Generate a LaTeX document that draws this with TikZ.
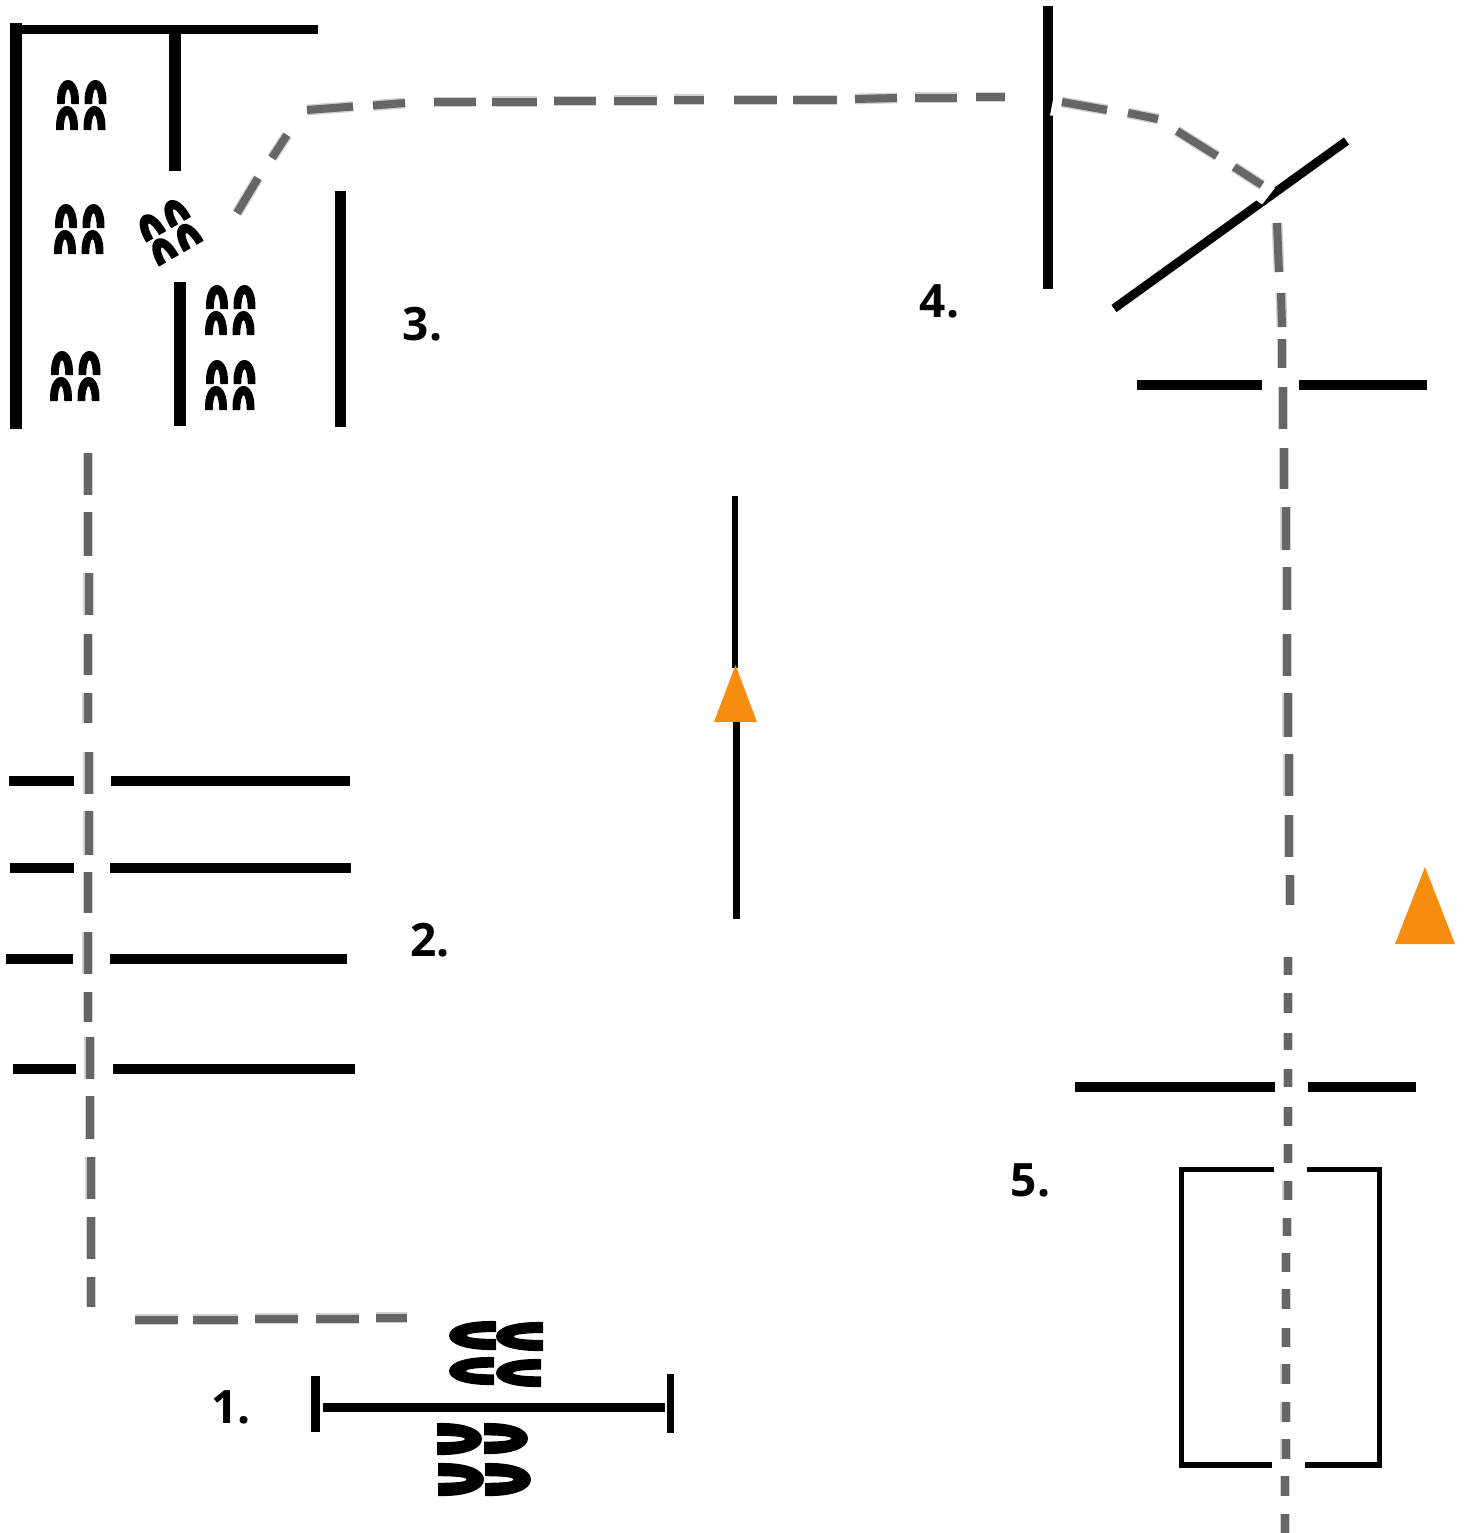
\documentclass[tikz,border=0pt]{standalone}
\usepackage{fontspec}
\setmainfont{Open Sans}
\definecolor{beamgrey}{HTML}{666666}
\definecolor{beamhalo}{HTML}{D0D0D0}
\definecolor{marker}{HTML}{F68D0F}
\tikzset{
  rayhalo/.style={beamhalo,line width=5.4pt},
  ray/.style={beamgrey,line width=4pt},
  bar/.style={black,line width=#1},
  bar/.default=5pt,
  tag/.style={font=\fontsize{23pt}{26pt}\selectfont\bfseries,text=black,inner sep=0pt,anchor=center},
  flag/.style={fill=marker,draw=none}
}
% #6 = half width of the opening, as a share of the half width
\newcommand\archfig[6]{%
  \fill[black,shift={(#1,#2)},rotate=#3,xscale=#4,yscale=#5]
    (-1,0) .. controls (-1.05,-.62) and (-.62,-1) .. (0,-1)
    .. controls (.62,-1) and (1.05,-.62) .. (1,0) -- (#6,0)
    .. controls (#6,-.3) and (.16,-.62) .. (0,-.62)
    .. controls (-.16,-.62) and (-#6,-.3) .. (-#6,0) -- cycle;}
\newcommand\archquad[4][1]{%
  \begin{scope}[shift={(#2,#3)},rotate=#4,scale=#1]
    \archfig{-13}{-1}{0}{11}{24}{.3}
    \archfig{14.5}{-1}{0}{11}{24}{.3}
    \archfig{-14}{25}{0}{11}{24}{.3}
    \archfig{13.5}{25}{0}{11}{24}{.3}
  \end{scope}}
\newcommand\seg[4]{%
  \draw[rayhalo] (#1,#2) -- (#3,#4);
  \draw[ray] (#1,#2) -- (#3,#4);}
\begin{document}
\begin{tikzpicture}[x=.5pt,y=-.5pt]
\useasboundingbox (0,0) rectangle (1464,1533);

% chamber walls (3)
\draw[bar=6pt] (16,23) -- (16,429);
\draw[bar=4.5pt] (22,29.5) -- (318,29.5);
\draw[bar=6pt] (175,34) -- (175,171);
\draw[bar=6pt] (180,282) -- (180,426);
\draw[bar=5.25pt] (340.3,191) -- (340.3,427);

% arch clusters
\archquad{81}{105}{0}
\archquad{79}{229}{0}
\archquad{75}{376}{0}
\archquad{230}{310}{0}
\archquad{230}{385}{0}
\archquad[1.04]{168.5}{231}{30}

% plates (2)
\foreach \yy/\a/\b/\c/\d in {780.5/9/74/111/350,868/9.5/73.5/110/351,958.5/6/72.5/109.5/347,1068.5/13/76/113/355}{
  \draw[bar] (\a,\yy) -- (\b,\yy);
  \draw[bar] (\c,\yy) -- (\d,\yy);
}

% source (1)
\draw[bar=4.5pt] (315.5,1376) -- (315.5,1432);
\draw[bar=4.5pt] (323,1407.5) -- (665,1407.5);
\draw[bar=3.7pt] (670.5,1374) -- (670.5,1433);
\archfig{496}{1335.5}{90}{14.5}{47}{.24}
\archfig{543}{1336.5}{90}{14.5}{47}{.24}
\archfig{494}{1371}{90}{14}{45}{.24}
\archfig{541}{1373}{90}{14}{45}{.24}
\archfig{437}{1439}{-90}{16}{45}{.2}
\archfig{484}{1438.5}{-90}{15.5}{44}{.2}
\archfig{438}{1479.5}{-90}{16.5}{46}{.2}
\archfig{485}{1479.5}{-90}{16.5}{46}{.2}

% left beam
\foreach \x/\a/\b in {88/453/495,88/512/556,88.5/573/615,88/634/675,87.5/693/723,88.5/752/794,88.5/811/855,88/872/913,87.5/932/974,88/992/1022,89.5/1037/1079,90/1096/1139,90.5/1157/1199,91/1217/1259,91/1277/1307}{
  \seg{\x}{\a}{\x}{\b}
}
% bottom beam
\seg{135}{1319.5}{178}{1319.5}
\seg{193}{1319.5}{238}{1319.5}
\seg{255}{1318.5}{298}{1318.5}
\seg{316}{1318.5}{359}{1318.5}
\seg{376}{1317.5}{407}{1317.5}
% beam leaving chamber
\seg{237}{213}{258}{178}
\seg{272}{158}{287}{135}
% top beam
\seg{307}{110}{353}{106.5}
\seg{373}{105.5}{405}{103}
\seg{433.5}{102}{476}{102}
\seg{492}{101.5}{537}{101.5}
\seg{554}{101}{596}{101}
\seg{614}{100.5}{657}{100.5}
\seg{674}{99.5}{704}{99.5}
\seg{734}{100}{777}{100}
\seg{793}{100}{837}{100}
\seg{855}{99}{897}{98}
\seg{915}{97.5}{957}{97.5}
\seg{976}{97}{1005}{97}
% curved part
\seg{1062}{102}{1107}{110}
\seg{1128}{113}{1158}{119}
\seg{1177}{131}{1217}{156}
\seg{1234}{167}{1262}{185}
% right beam
\seg{1277}{223}{1279}{272}
\seg{1281}{293}{1282}{327}
\foreach \x/\a/\b in {1282/339/368,1283/387/429,1284/448/489,1285.5/507/550,1287/567/610,1287/634/676,1287.5/693/737,1288.5/754/796,1289/815/857,1290/875/904.5,1288/957/975,1288/993/1013,1288/1033/1050,1288/1069/1087,1288/1107/1126,1288/1144/1163,1287.5/1181/1200,1287/1218/1236,1286/1253/1272,1286/1289/1309,1286/1328/1347,1285.5/1364/1384,1285.5/1402/1422,1285.5/1439/1459,1285/1476/1496,1285/1514/1533}{
  \seg{\x}{\a}{\x}{\b}
}

% mirror and splitter (4)
\draw[bar] (1048,6) -- (1048,289);
\fill[white] (1050,115.5) -- (1053.5,97) -- (1053.5,115.5) -- cycle;
\draw[bar=4.4pt] (1114,308.5) -- (1346.5,141);
\fill[white] (1256,200) -- (1262,204.5) -- (1275,188) -- (1268,184) -- cycle;

% slit (4)
\draw[bar] (1137,384.5) -- (1262,384.5);
\draw[bar] (1298.5,384.5) -- (1427,384.5);

% detector (5)
\draw[bar] (1075,1087) -- (1275,1087);
\draw[bar] (1308,1087) -- (1416,1087);
\draw[bar=2.6pt,miter limit=10] (1274,1169.5) -- (1181.5,1169.5) -- (1181.5,1465) -- (1272,1465);
\draw[bar=2.6pt,miter limit=10] (1307,1169.5) -- (1379.5,1169.5) -- (1379.5,1465) -- (1305,1465);

% centre rod with markers
\draw[bar=3pt] (735,496) -- (735,668);
\draw[bar=3.5pt] (736.5,722) -- (736.5,919);
\fill[flag] (735.5,665) -- (757,722) -- (714,722) -- cycle;
\fill[flag] (1425,867) -- (1455,944) -- (1395,944) -- cycle;

% labels
\node[tag] (l1) at (231,1407) {1.};
\node[tag] (l2) at (430,940) {2.};
\node[tag] (l3) at (422.5,324) {3.};
\node[tag] (l4) at (939.5,301) {4.};
\node[tag] (l5) at (1030.5,1180) {5.};
\end{tikzpicture}
\end{document}
